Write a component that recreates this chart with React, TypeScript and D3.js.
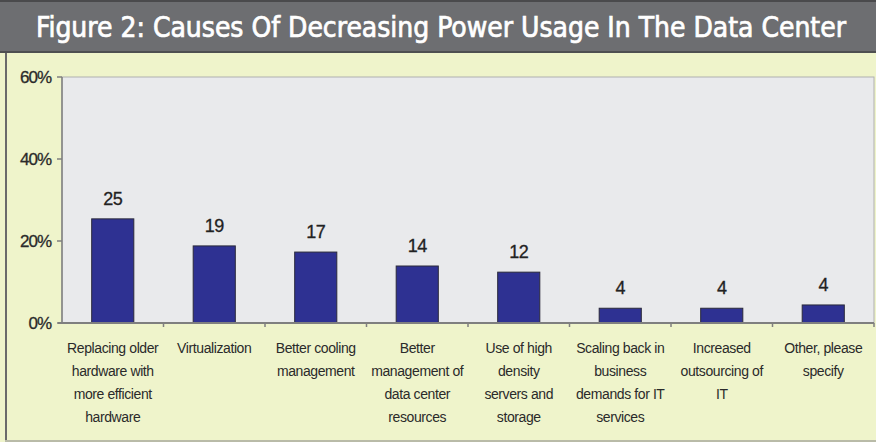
import React from "react";
import * as d3 from "d3";

const title = "Figure 2: Causes Of Decreasing Power Usage In The Data Center";
const categories: string[][] = [
  ["Replacing older", "hardware with", "more efficient", "hardware"],
  ["Virtualization"],
  ["Better cooling", "management"],
  ["Better", "management of", "data center", "resources"],
  ["Use of high", "density", "servers and", "storage"],
  ["Scaling back in", "business", "demands for IT", "services"],
  ["Increased", "outsourcing of", "IT"],
  ["Other, please", "specify"],
];
const values = [25.4, 18.8, 17.3, 13.9, 12.4, 3.6, 3.6, 4.4];
const yTicks = [0, 20, 40, 60];

const W = 876;
const H = 442;
const plot = { left: 62, right: 874, top: 77, bottom: 323 };

export default function App() {
  const ids = categories.map((_, i) => String(i));
  const pi = 0.585;
  const x = d3
    .scaleBand<string>()
    .domain(ids)
    .range([plot.left, plot.right])
    .paddingInner(pi)
    .paddingOuter(pi / 2);
  const y = d3.scaleLinear().domain([0, 60]).range([plot.bottom, plot.top]);
  const step = x.step();
  const boundaries = ids.map((id) => (x(id) as number) - (step * pi) / 2 + step);

  const font = "'Liberation Sans', Arial, sans-serif";

  return (
    <svg
      width={W}
      height={H}
      style={{ position: "absolute", left: 0, top: 0, display: "block" }}
    >
      {/* panel */}
      <rect x={0} y={0} width={W} height={H} fill="#eff4cb" />
      {/* title bar */}
      <rect x={0} y={0} width={W} height={52} fill="#6d6e71" />
      <rect x={0} y={0} width={W} height={2} fill="#4a4a4c" />
      <rect x={0} y={51} width={W} height={2} fill="#4e4f51" />
      <text
        x={36}
        y={37}
        fill="#ffffff"
        stroke="#ffffff"
        strokeWidth={0.7}
        fontSize={28}
        fontFamily="'DejaVu Sans Condensed', 'Liberation Sans Narrow', 'Open Sans', sans-serif"
        fontWeight={500}
        textLength={810}
        lengthAdjust="spacingAndGlyphs"
      >
        {title}
      </text>
      {/* panel borders */}
      <rect x={5} y={53} width={2} height={H - 53} fill="#6a6a6a" />
      <rect x={5} y={440} width={W - 5} height={2} fill="#b9bba8" />

      {/* plot background */}
      <rect
        x={plot.left}
        y={plot.top}
        width={plot.right - plot.left}
        height={plot.bottom - plot.top}
        fill="#e9eaec"
        stroke="#b0b0b0"
        strokeWidth={1}
      />

      {/* bars */}
      {values.map((v, i) => (
        <rect
          key={i}
          x={x(ids[i])}
          y={y(v)}
          width={x.bandwidth()}
          height={y(0) - y(v)}
          fill="#2e3192"
          stroke="#2a2a3a"
          strokeWidth={1}
        />
      ))}

      {/* value labels */}
      {values.map((v, i) => (
        <text
          key={i}
          x={(x(ids[i]) as number) + x.bandwidth() / 2}
          y={y(v) - 14}
          textAnchor="middle"
          fontSize={18}
          fontFamily={font}
          fill="#222"
          stroke="#222"
          strokeWidth={0.3}
          letterSpacing={-0.5}
        >
          {Math.round(v)}
        </text>
      ))}

      {/* axes */}
      <line x1={plot.left} x2={plot.left} y1={plot.top} y2={plot.bottom + 1} stroke="#7f7f7f" strokeWidth={1.5} />
      <line x1={plot.left - 4} x2={plot.right} y1={plot.bottom} y2={plot.bottom} stroke="#7f7f7f" strokeWidth={2} />
      {yTicks.map((t) => (
        <g key={t}>
          <line x1={plot.left - 5} x2={plot.left} y1={y(t)} y2={y(t)} stroke="#7f7f7f" strokeWidth={1.5} />
          <text
            x={51}
            y={y(t) + 6}
            textAnchor="end"
            fontSize={17}
            fontFamily={font}
            fill="#2a2a2a"
            stroke="#2a2a2a"
            strokeWidth={0.3}
            letterSpacing={-1}
          >
            {t}%
          </text>
        </g>
      ))}
      {boundaries.map((b, i) => (
        <line key={i} x1={b} x2={b} y1={plot.bottom} y2={plot.bottom + 4} stroke="#7f7f7f" strokeWidth={1.5} />
      ))}

      {/* category labels */}
      {categories.map((lines, i) => (
        <text
          key={i}
          x={(x(ids[i]) as number) + x.bandwidth() / 2}
          textAnchor="middle"
          fontSize={14}
          fontFamily={font}
          fill="#2a2a2a"
          letterSpacing={-0.4}
        >
          {lines.map((l, j) => (
            <tspan key={j} x={(x(ids[i]) as number) + x.bandwidth() / 2} y={353 + j * 23}>
              {l}
            </tspan>
          ))}
        </text>
      ))}
    </svg>
  );
}
